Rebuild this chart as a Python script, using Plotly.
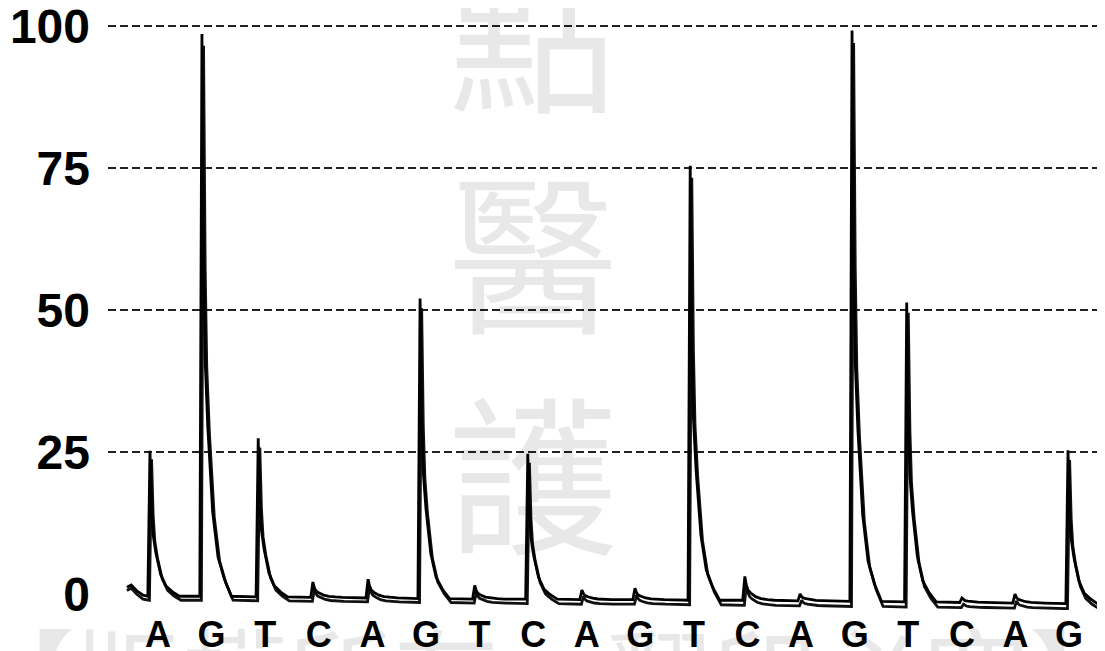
import plotly.graph_objects as go

# ---- data ----
dispensation = list("AGTCAGTCAGTCAGTCAG")
disp_index = list(range(1, 19))

# peak positions (in dispensation units) and heights for two overlaid runs
peak_pos = [0.85, 1.82, 2.87, 3.89, 4.92, 5.89, 6.91, 7.90, 8.91,
            9.90, 10.93, 11.95, 12.98, 13.95, 14.97, 16.00, 16.99, 17.98]
peak_a = [25.6, 99.0, 27.9, 2.7, 3.3, 52.8, 2.4, 25.6, 1.7,
          2.0, 76.5, 4.2, 1.2, 100.5, 52.7, 0.8, 1.6, 27.0]
peak_b = [24.8, 97.6, 27.0, 2.2, 2.8, 51.8, 2.0, 24.8, 1.4,
          1.6, 75.2, 3.6, 1.0, 99.2, 51.8, 0.6, 1.3, 26.2]
# baseline level under each peak
base_a = [-0.4, -0.4, -0.5, -0.6, -0.7, -0.8, -0.9, -0.9, -1.0,
          -1.0, -1.1, -1.1, -1.2, -1.3, -1.4, -1.5, -1.6, -1.7]
base_b = [-1.1, -1.1, -1.2, -1.3, -1.4, -1.5, -1.6, -1.7, -1.8,
          -1.8, -1.9, -2.0, -2.1, -2.2, -2.3, -2.4, -2.5, -2.6]
# peak profile: offset from apex and fraction of height
prof_dx = [-0.04, 0.0, 0.03, 0.06, 0.11, 0.2, 0.3, 0.42, 0.55]
prof_r = [0.0, 1.0, 0.6, 0.42, 0.3, 0.15, 0.07, 0.03, 0.0]
# lead-in segment before the first dispensation
lead_x = [0.42, 0.5, 0.6, 0.72]
lead_a = [1.2, 1.6, 0.6, -0.2]
lead_b = [0.6, 1.0, 0.0, -0.9]
end_x = 18.67

y_ticks = [0, 25, 50, 75, 100]
grid_vals = [25, 50, 75, 100]


def build(pos, heights, base, lead_y, shift):
    xs = list(lead_x)
    ys = list(lead_y)
    for p, h, b in zip(pos, heights, base):
        for dx, r in zip(prof_dx, prof_r):
            xs.append(p + shift + dx)
            ys.append(b + h * r)
    xs.append(end_x)
    ys.append(base[-1])
    return xs, ys


xa, ya = build(peak_pos, peak_a, base_a, lead_a, 0.0)
xb, yb = build(peak_pos, peak_b, base_b, lead_b, 0.03)

fig = go.Figure()
fig.add_trace(go.Scatter(x=xb, y=yb, mode="lines",
                         line=dict(color="#111111", width=2.8), hoverinfo="skip"))
fig.add_trace(go.Scatter(x=xa, y=ya, mode="lines",
                         line=dict(color="#000000", width=2.8), hoverinfo="skip"))

# the page body adds an 8px offset; plot area spans page x 108..1105, y 8..610
OFF = 8
FW, FH = 1105 - OFF, 651 - OFF
PL, PR, PT, PB = 108, 1105, 8, 610  # page pixels


def px(xp):
    return (xp - PL) / (PR - PL)


def py(yp):
    return (PB - yp) / (PB - PT)


# watermark
fig.add_annotation(text="點<br>醫<br>護", xref="paper", yref="paper", showarrow=False,
                   x=px(533), y=py(247), xanchor="center", yanchor="middle",
                   font=dict(family="Noto Sans CJK TC", size=170,
                             color="rgba(0,0,0,0.09)"))
fig.add_annotation(text="【版權所有，翻印必究】", xref="paper", yref="paper",
                   showarrow=False, x=px(552), y=py(672),
                   xanchor="center", yanchor="middle",
                   font=dict(family="Noto Sans CJK TC", size=106,
                             color="rgba(0,0,0,0.09)"))

fig.update_layout(
    width=FW, height=FH,
    margin=dict(l=PL - OFF, r=0, t=PT - OFF, b=FH - (PB - OFF), autoexpand=False),
    paper_bgcolor="white", plot_bgcolor="white",
    showlegend=False,
    xaxis=dict(range=[0.067, 18.67], tickvals=disp_index, ticktext=dispensation,
               showgrid=False, zeroline=False, showline=False, ticks="",
               ticklabelstandoff=0, automargin=False,
               ticklabeloverflow="allow",
               tickfont=dict(family="Liberation Sans, Arial", size=36,
                             color="black", weight="bold")),
    yaxis=dict(range=[-2.82, 103.17], tickvals=y_ticks,
               ticktext=[str(v) for v in y_ticks],
               showgrid=False, zeroline=False, showline=False, ticks="",
               ticklabelstandoff=17, automargin=False,
               ticklabeloverflow="allow",
               tickfont=dict(family="Liberation Sans, Arial", size=48,
                             color="black", weight="bold"),
               minor=dict(tickvals=grid_vals, showgrid=True, gridcolor="#222222",
                          gridwidth=1.5, griddash="8px,4px", ticks="")),
)

fig.write_html("out.html")
